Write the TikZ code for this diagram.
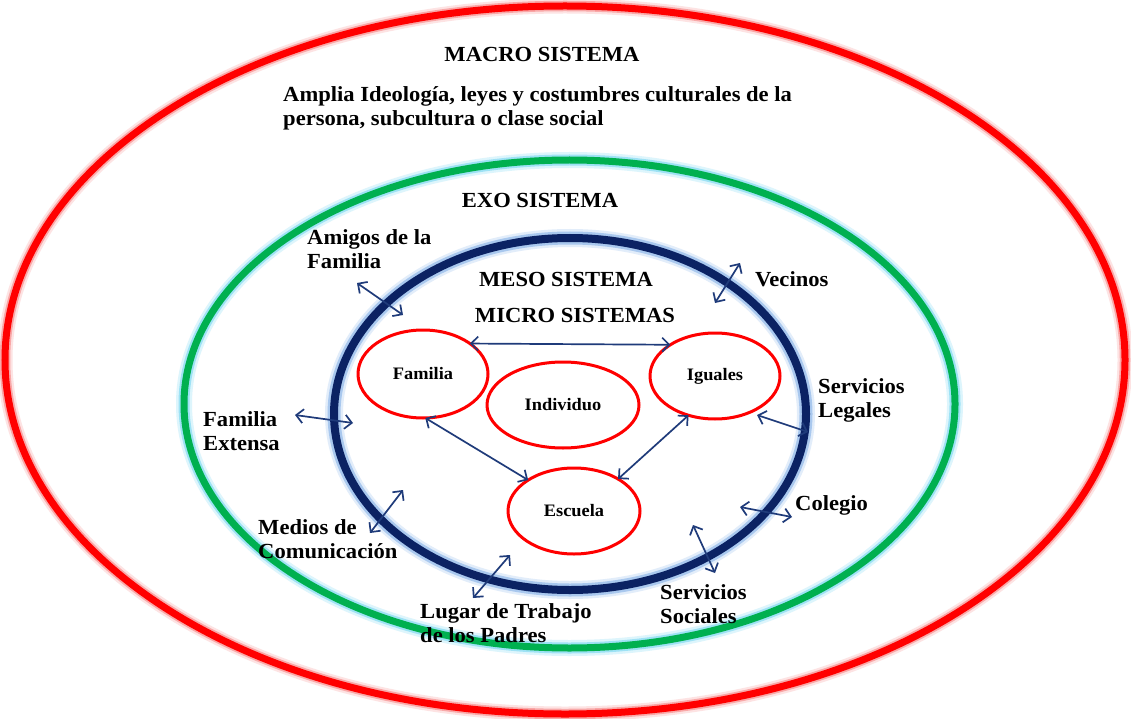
\documentclass[tikz,border=0pt]{standalone}
\usepackage{fontspec}
\setmainfont[FakeStretch=1.05]{Liberation Serif}
\usetikzlibrary{shapes.geometric,arrows.meta}
\definecolor{ringred}{HTML}{FF0000}
\definecolor{ringgreen}{HTML}{00B050}
\definecolor{ringnavy}{HTML}{0B2263}
\definecolor{glowred1}{HTML}{FDE3E3}
\definecolor{glowred2}{HTML}{F9A8A8}
\definecolor{glowcyan1}{HTML}{DDF5FC}
\definecolor{glowcyan2}{HTML}{9EE2F5}
\definecolor{glowblue1}{HTML}{E2EDFA}
\definecolor{glowblue2}{HTML}{A9C8EE}
\definecolor{arrowblue}{HTML}{1F3B7A}
\begin{document}
\begin{tikzpicture}[x=1pt,y=-1pt,
  lbl/.style={font=\bfseries\fontsize{21.5}{24}\selectfont, align=left, anchor=west, inner sep=0pt, text=black},
  ttl/.style={font=\bfseries\fontsize{21.5}{24}\selectfont, inner sep=0pt, text=black},
  micro/.style={ellipse, draw=ringred, line width=3pt, inner sep=0pt, outer sep=0pt,
                font=\bfseries\fontsize{17.5}{20}\selectfont},
  link/.style={draw=arrowblue, line width=1.7pt,
               {Straight Barb[length=7pt,width=14pt]}-{Straight Barb[length=7pt,width=14pt]}}]
\useasboundingbox (0,0) rectangle (1131,719);
\fill[white] (0,0) rectangle (1131,719);

% macro ring
\draw[glowred1, line width=15pt] (565,360) ellipse [x radius=560pt, y radius=354pt];
\draw[glowred2, line width=10.5pt] (565,360) ellipse [x radius=560pt, y radius=354pt];
\draw[ringred, line width=7pt] (565,360) ellipse [x radius=560pt, y radius=354pt];

% exo ring
\draw[glowcyan1, line width=16pt] (569.5,404) ellipse [x radius=385.5pt, y radius=244pt];
\draw[glowcyan2, line width=11pt] (569.5,404) ellipse [x radius=385.5pt, y radius=244pt];
\draw[ringgreen, line width=7pt] (569.5,404) ellipse [x radius=385.5pt, y radius=244pt];

% meso ring
\draw[glowblue1, line width=18pt] (570,414) ellipse [x radius=236pt, y radius=176pt];
\draw[glowblue2, line width=13pt] (570,414) ellipse [x radius=236pt, y radius=176pt];
\draw[ringnavy, line width=8pt] (570,414) ellipse [x radius=236pt, y radius=176pt];

% titles
\node[ttl] (tmacro) at (542,54) {MACRO SISTEMA};
\node[lbl] (tamplia) at (283,108) {Amplia Ideología, leyes y costumbres culturales de la\\persona, subcultura o clase social};
\node[ttl] (texo) at (540,200) {EXO SISTEMA};
\node[ttl] (tmeso) at (566,279) {MESO SISTEMA};
\node[ttl] (tmicro) at (575,315) {MICRO SISTEMAS};

% micro systems
\node[micro, minimum width=130pt, minimum height=88pt] (fam) at (423,374) {Familia};
\node[micro, minimum width=152pt, minimum height=86pt] (ind) at (563,405) {Individuo};
\node[micro, minimum width=130pt, minimum height=86pt] (ig) at (715,376) {Iguales};
\node[micro, minimum width=132pt, minimum height=86pt] (esc) at (574,511) {Escuela};

\draw[link] (fam.33) -- (ig.145);
\draw[link] (fam.-87) -- (esc.146);
\draw[link] (ig.236) -- (esc.36);

% exo labels
\node[lbl] (lamigos) at (307,249) {Amigos de la\\Familia};
\node[lbl] (lvecinos) at (755,279) {Vecinos};
\node[lbl] (llegales) at (818,400) {Servicios\\Legales};
\node[lbl] (lcolegio) at (795,505) {Colegio};
\node[lbl] (lsociales) at (660,604) {Servicios\\Sociales};
\node[lbl] (llugar) at (420,623) {Lugar de Trabajo\\de los Padres};
\node[lbl] (lmedios) at (258,539) {Medios de\\Comunicación};
\node[lbl] (lextensa) at (203,431) {Familia\\Extensa};

% arrow end points
\coordinate (a1s) at (357,283); \coordinate (a1e) at (403,315);
\coordinate (a2s) at (740,263); \coordinate (a2e) at (715,303);
\coordinate (a3s) at (808,432); \coordinate (a3e) at (757,415);
\coordinate (a4s) at (740,507); \coordinate (a4e) at (792,517);
\coordinate (a5s) at (693,525); \coordinate (a5e) at (715,573);
\coordinate (a6s) at (510,555); \coordinate (a6e) at (473,598);
\coordinate (a7s) at (403,490); \coordinate (a7e) at (370,533);
\coordinate (a8s) at (295,415); \coordinate (a8e) at (353,423);

\draw[link] (a1s) -- (a1e);
\draw[link] (a2s) -- (a2e);
\draw[link] (a3s) -- (a3e);
\draw[link] (a4s) -- (a4e);
\draw[link] (a5s) -- (a5e);
\draw[link] (a6s) -- (a6e);
\draw[link] (a7s) -- (a7e);
\draw[link] (a8s) -- (a8e);
\end{tikzpicture}
\end{document}
